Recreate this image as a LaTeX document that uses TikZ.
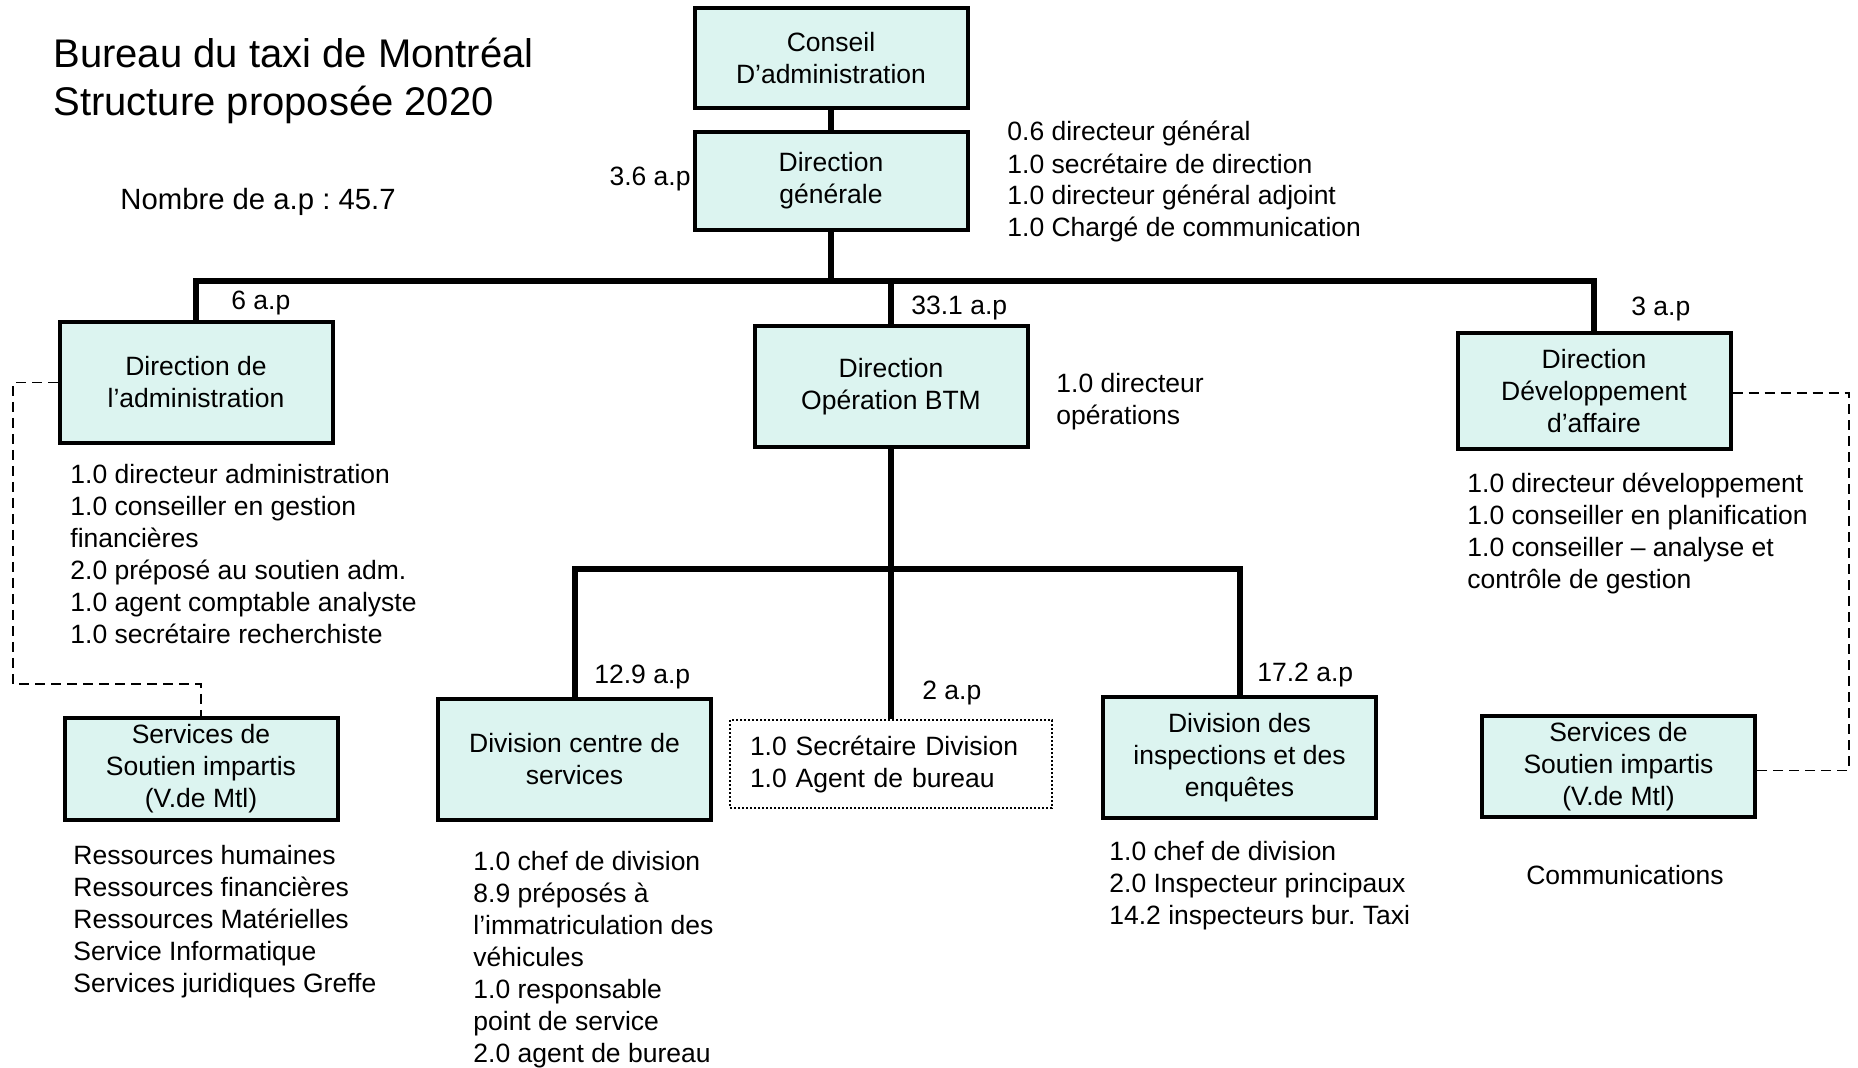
\documentclass[tikz,border=0pt]{standalone}
\usepackage{fontspec}
\setmainfont{Liberation Sans}
\definecolor{boite}{RGB}{220,244,240}
\frenchspacing
\begin{document}
\begin{tikzpicture}[x=0.5pt,y=-0.5pt,
    every node/.style={font=\fontsize{13.25}{16}\selectfont,inner sep=0pt},
    unite/.style={draw,line width=2pt,fill=boite,align=center,
      minimum width=136.5pt,minimum height=#1},
    unite/.default=60.5pt,
    liste/.style={anchor=west,align=left,yshift=-1pt},
    lien/.style={line width=3pt},
    pointille/.style={line width=0.7pt,dash pattern=on 5pt off 3pt}]
  \useasboundingbox (0,0) rectangle (1858,1068);
  \draw
    (831,58) node[unite=50pt] (conseil){Conseil\\D’administration}
    (831,181) node[unite=49pt] (dg){Direction\\générale}
    (196,382.5) node[unite] (dadm){Direction de\\l’administration}
    (891,386.5) node[unite] (dop){Direction\\Opération BTM}
    (1594,391) node[unite=58pt] (ddev){Direction\\Développement\\d’affaire}
    (574.5,759.5) node[unite] (dcs){Division centre de\\services}
    (1239.5,757.5) node[unite] (dinsp){Division des\\inspections et des\\enquêtes}
    (201,769) node[unite=51pt] (ssl){Services de\\Soutien impartis\\(V.de Mtl)}
    (1618.5,766.5) node[unite=50.5pt] (ssr){Services de\\Soutien impartis\\(V.de Mtl)}
    (891,764) node[draw,line width=0.6pt,dash pattern=on 1pt off 1pt,align=left,
      text width=141pt,inner xsep=10pt,minimum height=44pt] (sec)
      {1.0 Secrétaire Division\\1.0 Agent de bureau};
  \node[liste,yshift=-0.75pt,font=\fontsize{20}{24.3}\selectfont] (titre) at (53,77.5)
    {Bureau du taxi de Montréal\\Structure proposée 2020};
  \node[liste,font=\fontsize{14.65}{17.6}\selectfont] (nombre) at (120,200) {Nombre de a.p : 45.7};
  \node[liste,anchor=east] (ap36) at (691,177) {3.6 a.p};
  \node[liste] (ap6) at (231,301) {6 a.p};
  \node[liste] (ap331) at (911,306) {33.1 a.p};
  \node[liste] (ap3) at (1631,307) {3 a.p};
  \node[liste] (ap129) at (594,675) {12.9 a.p};
  \node[liste] (ap2) at (922,691) {2 a.p};
  \node[liste] (ap172) at (1257,673) {17.2 a.p};
  \node[liste] (postesdg) at (1007,180) {0.6 directeur général\\1.0 secrétaire de direction\\1.0 directeur général adjoint\\1.0 Chargé de communication};
  \node[liste] (postesop) at (1056,400) {1.0 directeur\\opérations};
  \node[liste] (postesadm) at (70,552) {1.0 directeur administration\\1.0 conseiller en gestion\\financières\\2.0 préposé au soutien adm.\\1.0 agent comptable analyste\\1.0 secrétaire recherchiste};
  \node[liste] (postesdev) at (1467,531) {1.0 directeur développement\\1.0 conseiller en planification\\1.0 conseiller – analyse et\\contrôle de gestion};
  \node[liste] (servicesg) at (73,920) {Ressources humaines\\Ressources financières\\Ressources Matérielles\\Service Informatique\\Services juridiques Greffe};
  \node[liste] (postesdcs) at (473,957.5) {1.0 chef de division\\8.9 préposés à\\l’immatriculation des\\véhicules\\1.0 responsable\\point de service\\2.0 agent de bureau};
  \node[liste] (postesinsp) at (1109,884) {1.0 chef de division\\2.0 Inspecteur principaux\\14.2 inspecteurs bur. Taxi};
  \node[yshift=-1pt] (comm) at (1625,873) {Communications};
  \coordinate (bus) at (831,281);
  \coordinate (bus2) at (891,569);
  \coordinate (dl) at (13,684);
  \coordinate (dr) at (1849,600);
  \begin{scope}[lien]
    \draw (conseil) to (dg);
    \draw (dg.south) to (bus);
    \draw (dadm.north) |- (bus) -| (ddev.north);
    \draw (dop.north) to (dop.north |- bus);
    \draw (dop.south) to (sec.north);
    \draw (dcs.north) |- (bus2) -| (dinsp.north);
  \end{scope}
  \begin{scope}[pointille]
    \draw (dadm.west) -| (dl) -| (ssl.north);
    \draw ([yshift=-1pt]ddev.east) -| (dr) |- ([yshift=-2pt]ssr.east);
  \end{scope}
\end{tikzpicture}
\end{document}
